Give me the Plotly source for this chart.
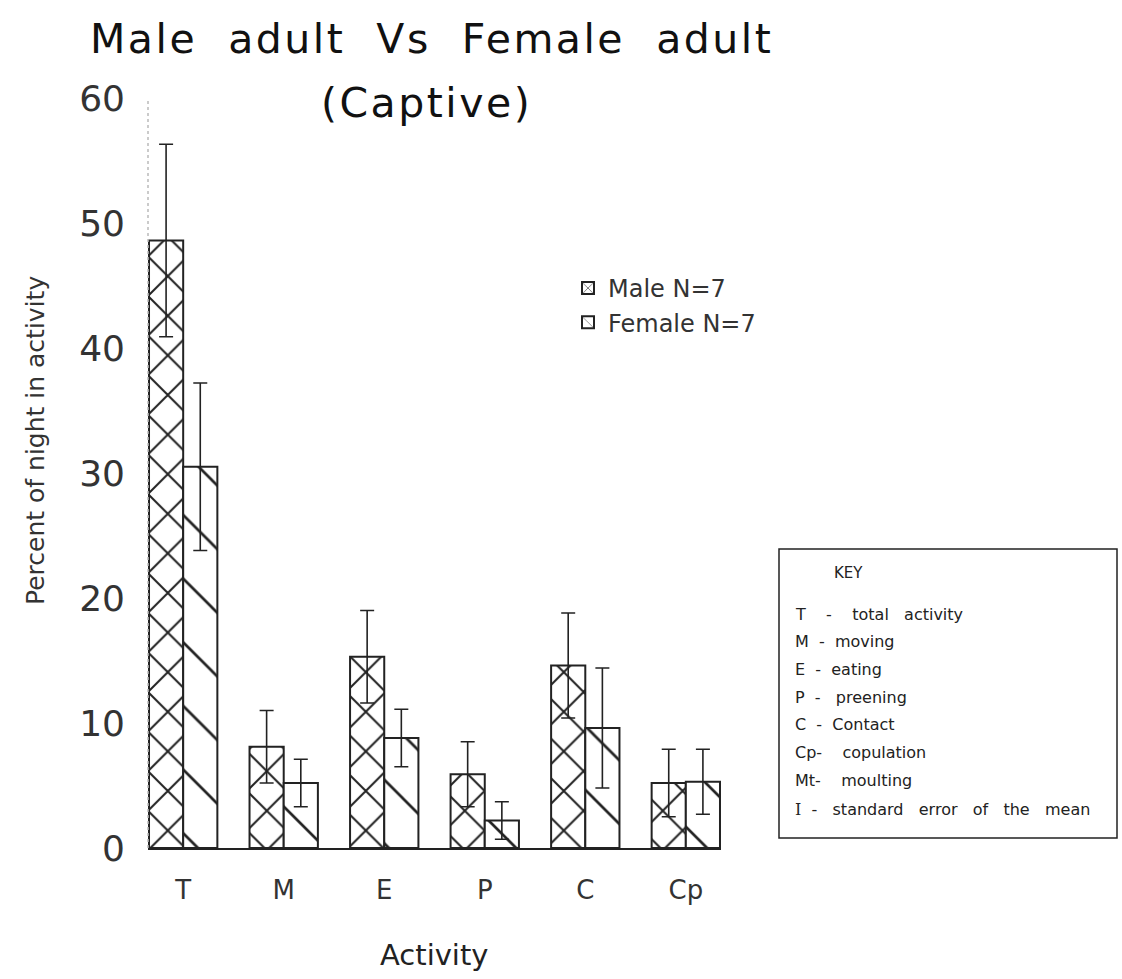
import plotly.graph_objects as go

categories = ["T", "M", "E", "P", "C", "Cp"]
male = [48.6, 8.1, 15.3, 5.9, 14.6, 5.2]
male_se = [7.7, 2.9, 3.7, 2.6, 4.2, 2.7]
female = [30.5, 5.2, 8.8, 2.2, 9.6, 5.3]
female_se = [6.7, 1.9, 2.3, 1.5, 4.8, 2.6]
y_ticks = [0, 10, 20, 30, 40, 50, 60]

SP = "\u00a0"
title_line1 = f"Male{SP*2}adult{SP*2}Vs{SP*2}Female{SP*2}adult"
title_line2 = "(Captive)"
key_title = "KEY"
key_items = [
    f"T{SP*4}-{SP*4}total{SP*3}activity",
    f"M{SP*2}-{SP*2}moving",
    f"E{SP*2}-{SP*2}eating",
    f"P{SP*2}-{SP*3}preening",
    f"C{SP*2}-{SP*2}Contact",
    f"Cp-{SP*4}copulation",
    f"Mt-{SP*4}moulting",
    f"<span style='font-family:DejaVu Serif'>I</span>{SP*2}-{SP*3}standard{SP*3}error{SP*3}of{SP*3}the{SP*3}mean",
]

INK = "#222"
FONT = "DejaVu Sans"

L, T_, PW, PH = 148, 98, 573, 750


def px(x):
    return (x - L) / PW


def py(y):
    return (T_ + PH - y) / PH


fig = go.Figure()
fig.add_trace(go.Bar(
    x=categories, y=male, name="Male N=7",
    marker=dict(color="white", line=dict(color=INK, width=2),
                pattern=dict(shape="x", fgcolor=INK, bgcolor="white", size=28, solidity=0.14, fillmode="replace")),
    error_y=dict(type="data", array=male_se, visible=True, color=INK, thickness=1.6, width=7),
))
fig.add_trace(go.Bar(
    x=categories, y=female, name="Female N=7",
    marker=dict(color="white", line=dict(color=INK, width=2),
                pattern=dict(shape="\\", fgcolor=INK, bgcolor="white", size=45, solidity=0.06, fillmode="replace")),
    error_y=dict(type="data", array=female_se, visible=True, color=INK, thickness=1.6, width=7),
))

fig.update_layout(
    width=1122, height=979,
    margin=dict(l=L, r=1122 - L - PW, t=T_, b=979 - T_ - PH),
    paper_bgcolor="white", plot_bgcolor="white",
    barmode="group", bargap=0.32, bargroupgap=0,
    font=dict(family=FONT, color="#333"),
    showlegend=True,
    legend=dict(x=px(568), y=py(266), xanchor="left", yanchor="top",
                bgcolor="rgba(0,0,0,0)", font=dict(size=24, color="#333", family=FONT),
                itemwidth=30, tracegroupgap=0),
    xaxis=dict(range=[-0.35, 5.35], showline=True, linecolor=INK, linewidth=2, mirror=False,
               showgrid=False, zeroline=False, ticks="", ticklabelstandoff=18,
               tickfont=dict(size=26, color="#333", family=FONT)),
    yaxis=dict(range=[0, 60], tickvals=y_ticks, showline=False, showgrid=False, zeroline=False,
               ticks="", ticklabelstandoff=22, tickfont=dict(size=36, color="#333", family=FONT)),
)

# faint dotted y axis
fig.add_shape(type="line", xref="paper", yref="y", x0=0, x1=0, y0=0, y1=60,
              line=dict(color="#bbb", width=1.5, dash="dot"))

# title
fig.add_annotation(text=f"<span style='letter-spacing:2.5px'>{title_line1}</span>", xref="paper", yref="paper",
                   x=px(431), y=py(39), showarrow=False, xanchor="center", yanchor="middle",
                   font=dict(size=41, color="#111", family=FONT))
fig.add_annotation(text=f"<span style='letter-spacing:2.5px'>{title_line2}</span>", xref="paper", yref="paper",
                   x=px(426), y=py(103), showarrow=False, xanchor="center", yanchor="middle",
                   font=dict(size=41, color="#111", family=FONT))

# axis titles
fig.add_annotation(text="Percent of night in activity", xref="paper", yref="paper",
                   x=px(35), y=py(441), textangle=-90, showarrow=False,
                   font=dict(size=25, color="#333", family=FONT), xanchor="center", yanchor="middle")
fig.add_annotation(text="Activity", xref="paper", yref="paper",
                   x=px(434), y=py(955), showarrow=False,
                   font=dict(size=29, color="#222", family=FONT), xanchor="center", yanchor="middle")

# KEY box
fig.add_shape(type="rect", xref="paper", yref="paper",
              x0=px(779), x1=px(1117), y0=py(838), y1=py(549),
              line=dict(color=INK, width=1.5), fillcolor="rgba(0,0,0,0)")
fig.add_annotation(text=key_title, xref="paper", yref="paper",
                   x=px(832), y=py(573), showarrow=False,
                   xanchor="left", yanchor="middle", font=dict(size=15, color="#222", family=FONT))
key_y = [614, 641, 669, 697, 724, 752, 780, 809]
for txt, yy in zip(key_items, key_y):
    fig.add_annotation(text=txt, xref="paper", yref="paper",
                       x=px(793), y=py(yy), showarrow=False,
                       xanchor="left", yanchor="middle",
                       font=dict(size=16, color="#222", family=FONT))

fig.write_html("out.html")
